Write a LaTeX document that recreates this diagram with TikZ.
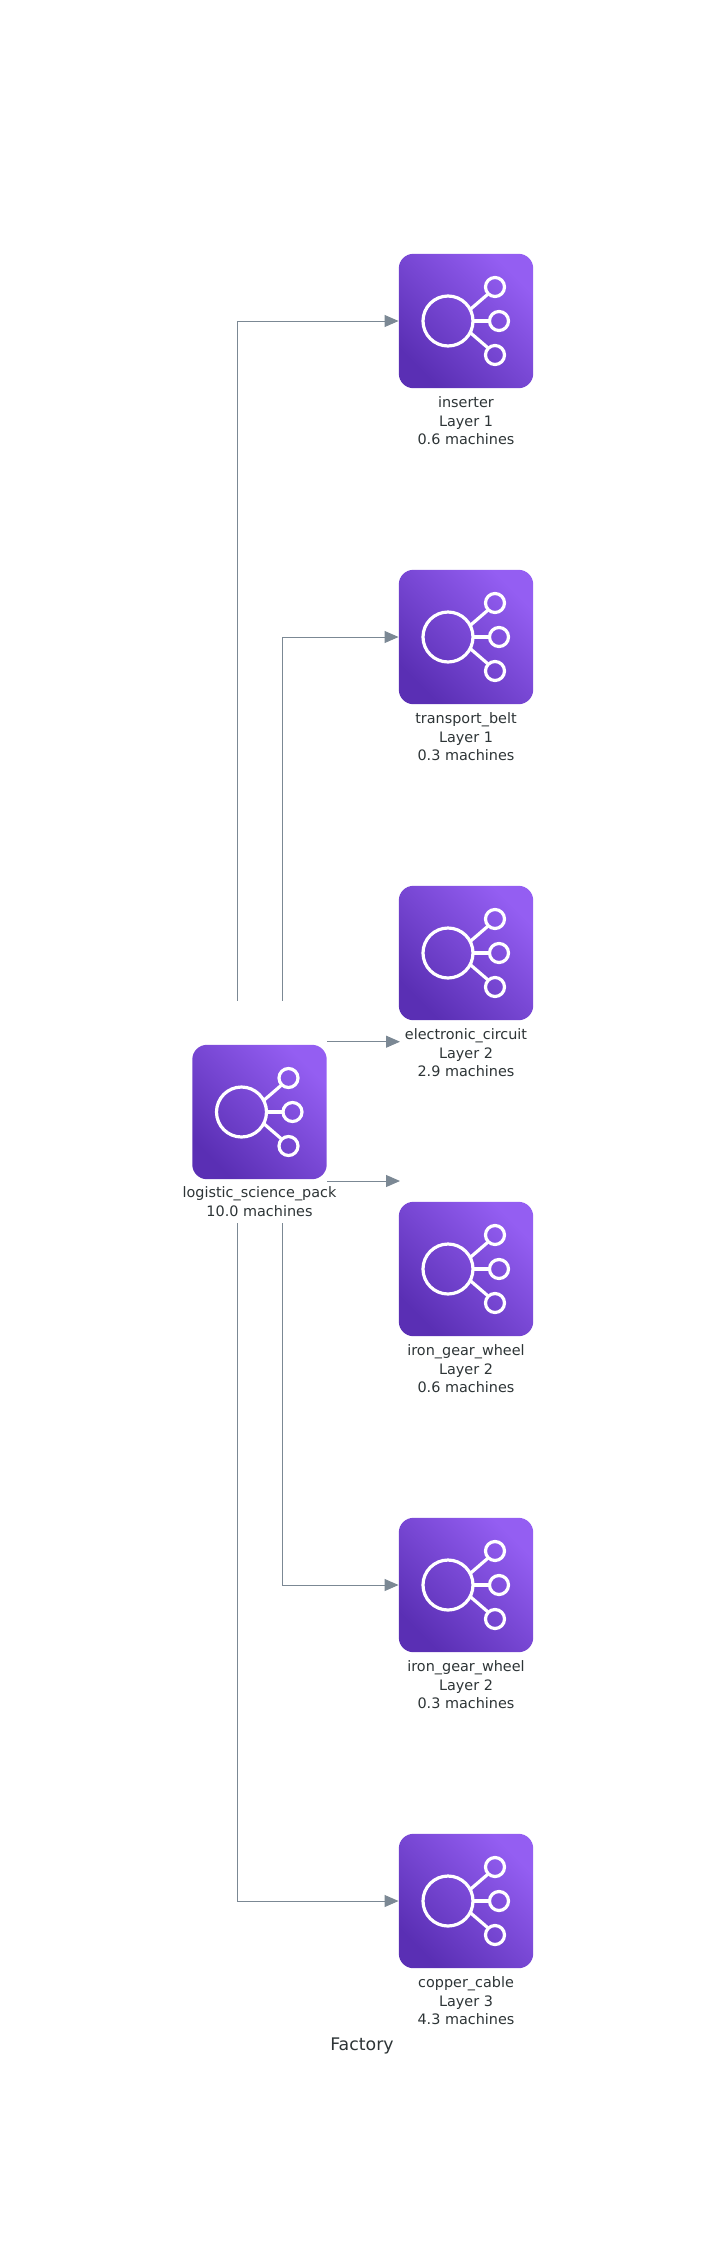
\documentclass[tikz,border=0pt]{standalone}
\usepackage{fontspec}
\setmainfont{DejaVu Sans}
\usetikzlibrary{arrows.meta}
\definecolor{edgegray}{HTML}{7B8894}
\definecolor{labelgray}{HTML}{2D3436}
\definecolor{boxdark}{HTML}{5A2FB4}
\definecolor{boxlight}{HTML}{945EF2}
\tikzset{
  x=.75pt,y=-.75pt,
  factory/.style={minimum size=100.8pt,inner sep=0pt,rounded corners=11pt,
    shading=axis,left color=boxdark,right color=boxlight,shading angle=135},
  caption/.style={align=center,font=\fontsize{10.8}{13.9}\selectfont,text=labelgray,inner sep=0pt},
  flow/.style={draw=edgegray,line width=.75pt,-{Triangle[length=10.5pt,width=9pt]}},
  icon/.style={draw=white,line width=2.4pt},
}
\newcommand{\factoryicon}[1]{%
\begin{scope}[shift={(#1)}]
\draw[icon] (-18,0) circle (25);
\draw[icon] (29,-34) circle (9.5);
\draw[icon] (33,0) circle (9.5);
\draw[icon] (29,34) circle (9.5);
\draw[icon] (4.7,-12) -- (21.5,-26.5);
\draw[icon] (7,0) -- (23.5,0);
\draw[icon] (4.7,12) -- (21.5,26.5);
\end{scope}}
\begin{document}
\begin{tikzpicture}
\useasboundingbox (0,0) rectangle (725,2256);

% left machine
\node[factory] (pack) at (259.5,1112) {};
\factoryicon{pack.center}
\node[caption,anchor=north] (packtext) at (259.5,1186.5) {logistic\_science\_pack\\10.0 machines};

% right column
\foreach \name/\ypos/\nm/\lay/\num in {
  inserter/321/inserter/1/0.6,
  belt/637/transport\_belt/1/0.3,
  circuit/953/electronic\_circuit/2/2.9,
  geara/1269/iron\_gear\_wheel/2/0.6,
  gearb/1585/iron\_gear\_wheel/2/0.3,
  cable/1901/copper\_cable/3/4.3}{
  \node[factory] (\name) at (466,\ypos) {};
  \factoryicon{\name.center}
  \node[caption,anchor=north] (\name text) at (466,\ypos+75.5) {\nm\\Layer \lay\\\num~machines};
}

\node[font=\fontsize{13}{16}\selectfont,text=labelgray,inner sep=0pt] (title) at (362,2046) {Factory};

% free ends of the edges
\coordinate (upa) at (237.3,1000.5);
\coordinate (upb) at (282.7,1000.5);
\coordinate (downa) at (237.3,1223);
\coordinate (downb) at (282.7,1223);
\coordinate (sidea) at (327,1041.7);
\coordinate (sideb) at (327,1181);
\coordinate (enda) at (400,1041.7);
\coordinate (endb) at (400,1181);

\path[flow] (upa) |- (inserter.west);
\path[flow] (upb) |- (belt.west);
\path[flow] (sidea) -- (enda);
\path[flow] (sideb) -- (endb);
\path[flow] (downb) |- (gearb.west);
\path[flow] (downa) |- (cable.west);

\end{tikzpicture}
\end{document}
